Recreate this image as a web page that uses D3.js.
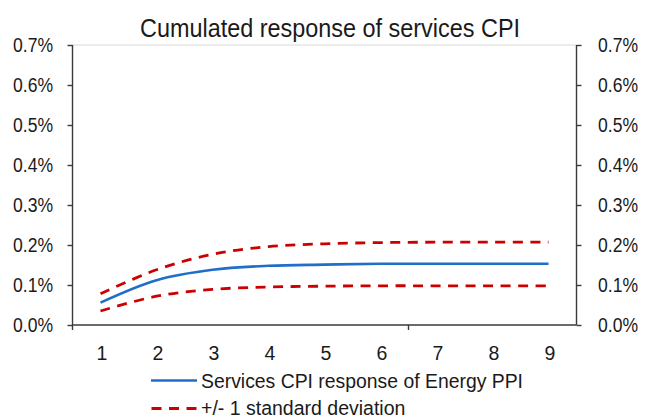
<!DOCTYPE html>
<html><head><meta charset="utf-8">
<script src="https://cdn.jsdelivr.net/npm/d3@7"></script>
<style>
html,body{margin:0;padding:0;background:#fff;}
svg{display:block;font-family:"Liberation Sans",Arial,Helvetica,sans-serif;}
</style></head>
<body>
<svg id="chart" width="645" height="417"></svg>
<script>
const categories = [1,2,3,4,5,6,7,8,9];
const response = [0.00056,0.00112,0.00138,0.00148,0.00151,0.00153,0.00153,0.00153,0.00153];
const upperBand = [0.00078,0.00138,0.00177,0.00196,0.00203,0.00206,0.00207,0.00207,0.00207];
const lowerBand = [0.00035,0.00072,0.00089,0.00095,0.00097,0.00098,0.00098,0.00098,0.00098];
const yTicks = [0,0.001,0.002,0.003,0.004,0.005,0.006,0.007];
const title = "Cumulated response of services CPI";
const legendLabels = ["Services CPI response of Energy PPI","+/- 1 standard deviation"];

const svg = d3.select("#chart");
const L = 72.5, R = 576.5, T = 45, B = 325;
const x = d3.scaleBand().domain(categories).range([L,R]).padding(0);
const y = d3.scaleLinear().domain([0,0.007]).range([B,T]);
const axisColor = "#3a3a3a", textColor = "#1a1a1a";

function squeeze(sel, f){
  sel.each(function(){
    const w = this.getComputedTextLength();
    d3.select(this).attr("textLength", w*f).attr("lengthAdjust","spacingAndGlyphs");
  });
}

svg.append("line").attr("x1",L).attr("x2",R).attr("y1",T).attr("y2",T)
  .attr("stroke","#d9d9d9").attr("stroke-width",1);

svg.append("text").attr("x",330).attr("y",36.5).attr("text-anchor","middle")
  .attr("font-size",26).attr("fill",textColor).text(title)
  .attr("textLength",380).attr("lengthAdjust","spacingAndGlyphs");

const fmt = d3.format(".1%");
const gl = svg.append("g").attr("transform",`translate(${L},0)`)
  .call(d3.axisLeft(y).tickValues(yTicks).tickFormat(fmt).tickSize(5).tickPadding(14.5));
const gr = svg.append("g").attr("transform",`translate(${R},0)`)
  .call(d3.axisRight(y).tickValues(yTicks).tickFormat(fmt).tickSize(5).tickPadding(16.5));
[gl,gr].forEach(g=>{
  g.select(".domain").attr("stroke",axisColor).attr("stroke-width",1.4).attr("d",`M0,${T}V${B}`);
  g.selectAll(".tick line").attr("stroke",axisColor).attr("stroke-width",1.4);
  g.selectAll("text").attr("font-size",19.5).attr("fill",textColor).attr("font-family","Liberation Sans, Arial, sans-serif");
  squeeze(g.selectAll("text"), 0.9);
});

const gx = svg.append("g").attr("transform",`translate(0,${B})`)
  .call(d3.axisBottom(x).tickSize(0).tickPadding(21));
gx.select(".domain").attr("stroke",axisColor).attr("stroke-width",1.4).attr("d",`M${L},0H${R}`);
gx.selectAll("text").attr("font-size",19.5).attr("fill",textColor).attr("dx",1.5)
  .attr("font-family","Liberation Sans, Arial, sans-serif");
[0,6].forEach(i=>{
  const xp = L + i*x.step();
  gx.append("line").attr("x1",xp).attr("x2",xp).attr("y1",0).attr("y2",5)
    .attr("stroke",axisColor).attr("stroke-width",1.4);
});

const line = d3.line().x((d,i)=>x(categories[i])+x.bandwidth()/2).y(d=>y(d)).curve(d3.curveCatmullRom.alpha(0.5));
const red = "#cc0000", blue = "#1f6fc8";
svg.append("path").datum(upperBand).attr("d",line).attr("fill","none")
  .attr("stroke",red).attr("stroke-width",2.8).attr("stroke-dasharray","10,7.5");
svg.append("path").datum(lowerBand).attr("d",line).attr("fill","none")
  .attr("stroke",red).attr("stroke-width",2.8).attr("stroke-dasharray","10,7.5");
svg.append("path").datum(response).attr("d",line).attr("fill","none")
  .attr("stroke",blue).attr("stroke-width",2.6);

const lg = svg.append("g");
lg.append("line").attr("x1",151).attr("x2",197).attr("y1",380.5).attr("y2",380.5)
  .attr("stroke",blue).attr("stroke-width",2.6);
lg.append("text").attr("x",201).attr("y",387.5).attr("font-size",19.5).attr("fill",textColor).text(legendLabels[0])
  .attr("textLength",322).attr("lengthAdjust","spacingAndGlyphs");
lg.append("line").attr("x1",151.5).attr("x2",197).attr("y1",408.5).attr("y2",408.5)
  .attr("stroke",red).attr("stroke-width",2.8).attr("stroke-dasharray","10,7.5");
lg.append("text").attr("x",201).attr("y",414.5).attr("font-size",19.5).attr("fill",textColor).text(legendLabels[1]);
</script>
</body></html>
